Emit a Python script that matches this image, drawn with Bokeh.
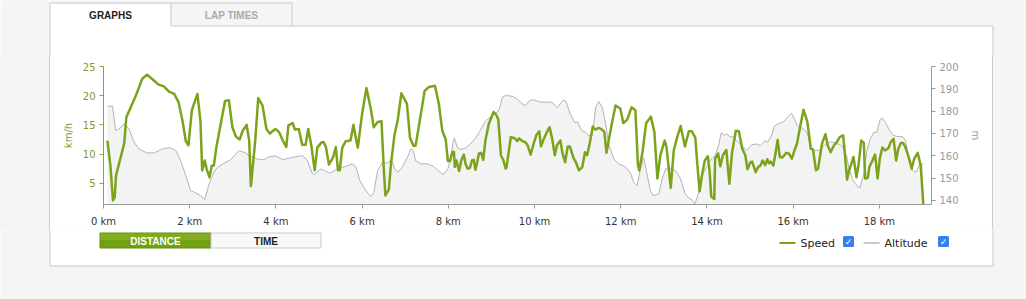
from bokeh.plotting import figure
from bokeh.models import LinearAxis, Range1d, FixedTicker, PrintfTickFormatter, Div
from bokeh.core.properties import value
from bokeh.layouts import column, row
from bokeh.embed import file_html
from bokeh.resources import INLINE

# ---------------- data ----------------
speed_km = [0.09, 0.16, 0.22, 0.26, 0.29, 0.48, 0.53, 0.75, 0.90, 1.01, 1.17, 1.28, 1.40, 1.52, 1.64, 1.74,
            1.83, 1.91, 1.97, 2.05, 2.18, 2.25, 2.29, 2.35, 2.39, 2.46, 2.51, 2.56, 2.62, 2.72, 2.82, 2.91,
            2.99, 3.07, 3.16, 3.23, 3.32, 3.38, 3.42, 3.52, 3.59, 3.69, 3.78, 3.86, 3.92, 3.99, 4.07, 4.16,
            4.24, 4.29, 4.39, 4.44, 4.53, 4.61, 4.69, 4.75, 4.82, 4.90, 4.96, 5.06, 5.11, 5.16, 5.23, 5.33,
            5.39, 5.44, 5.48, 5.54, 5.62, 5.73, 5.80, 5.85, 5.90, 6.00, 6.10, 6.20, 6.27, 6.36, 6.45, 6.50,
            6.54, 6.62, 6.67, 6.75, 6.83, 6.91, 6.96, 7.04, 7.11, 7.19, 7.24, 7.34, 7.45, 7.55, 7.69, 7.78,
            7.86, 7.94, 7.99, 8.04, 8.09, 8.13, 8.15, 8.19, 8.22, 8.25, 8.30, 8.36, 8.40, 8.45, 8.50, 8.55,
            8.59, 8.63, 8.67, 8.71, 8.76, 8.81, 8.86, 8.94, 9.05, 9.12, 9.16, 9.22, 9.28, 9.33, 9.35, 9.45,
            9.54, 9.60, 9.64, 9.70, 9.79, 9.84, 9.91, 9.98, 10.04, 10.11, 10.15, 10.20, 10.29, 10.35, 10.41,
            10.47, 10.52, 10.60, 10.65, 10.71, 10.77, 10.82, 10.91, 10.96, 11.03, 11.11, 11.17, 11.22, 11.28,
            11.35, 11.41, 11.49, 11.56, 11.62, 11.67, 11.72, 11.80, 11.88, 11.99, 12.06, 12.15, 12.25, 12.34,
            12.40, 12.43, 12.51, 12.59, 12.70, 12.78, 12.85, 12.92, 13.02, 13.06, 13.16, 13.23, 13.31, 13.39,
            13.49, 13.58, 13.65, 13.73, 13.77, 13.83, 13.89, 13.95, 14.02, 14.06, 14.10, 14.17, 14.19, 14.26,
            14.31, 14.37, 14.45, 14.52, 14.58, 14.67, 14.74, 14.82, 14.89, 14.94, 15.01, 15.05, 15.13, 15.19,
            15.24, 15.29, 15.35, 15.40, 15.44, 15.48, 15.54, 15.59, 15.64, 15.69, 15.75, 15.84, 15.90, 15.97,
            16.03, 16.09, 16.16, 16.24, 16.33, 16.41, 16.46, 16.53, 16.58, 16.67, 16.75, 16.80, 16.87, 16.95,
            17.00, 17.08, 17.16, 17.20, 17.25, 17.30, 17.35, 17.40, 17.47, 17.52, 17.58, 17.64, 17.67, 17.73,
            17.77, 17.84, 17.90, 17.96, 18.01, 18.07, 18.13, 18.21, 18.26, 18.33, 18.39, 18.44, 18.50, 18.55,
            18.61, 18.70, 18.75, 18.81, 18.89, 18.96, 19.02]
speed_kmh = [12.3, 8.0, 2.05, 2.6, 6.3, 11.8, 16.3, 20.0, 22.9, 23.6, 22.6, 21.9, 21.6, 20.7, 20.3, 18.9,
             15.8, 12.2, 11.5, 17.5, 20.3, 15.5, 7.2, 8.9, 7.5, 6.0, 8.0, 8.0, 11.2, 15.2, 19.1, 19.2,
             14.6, 13.0, 12.5, 14.0, 15.0, 12.3, 4.5, 12.3, 19.6, 18.3, 14.3, 13.5, 13.9, 14.3, 13.8, 12.3,
             11.2, 14.9, 15.3, 14.2, 14.3, 11.6, 11.6, 14.3, 11.5, 7.2, 11.1, 12.0, 12.0, 11.2, 8.2, 9.5,
             11.2, 7.2, 7.2, 11.1, 12.2, 12.3, 15.0, 12.9, 11.1, 16.9, 21.3, 17.8, 14.6, 15.5, 15.6, 7.8,
             2.9, 3.9, 8.3, 13.2, 16.0, 20.4, 19.7, 18.6, 12.8, 11.4, 11.4, 15.8, 20.8, 21.5, 21.7, 18.6,
             14.0, 12.5, 8.8, 8.8, 10.3, 10.4, 7.8, 8.9, 7.9, 7.1, 8.9, 9.9, 8.3, 7.5, 7.6, 8.9,
             9.0, 7.3, 8.6, 10.1, 10.2, 9.0, 12.3, 15.2, 17.2, 16.6, 15.9, 9.8, 8.9, 7.5, 7.7, 12.9,
             12.7, 12.2, 12.7, 12.3, 12.0, 11.5, 9.9, 11.8, 13.2, 13.9, 11.3, 12.3, 13.8, 14.6, 12.6,
             9.8, 11.5, 12.3, 10.1, 8.6, 11.3, 11.3, 9.2, 8.6, 7.2, 7.8, 10.3, 9.8, 11.8,
             14.7, 14.2, 14.5, 14.2, 13.8, 10.2, 12.3, 15.5, 18.3, 17.8, 15.3, 15.9, 18.0, 17.5,
             8.0, 7.2, 10.6, 15.3, 16.4, 13.8, 5.8, 9.8, 12.3, 11.3, 4.2, 10.6, 12.9, 14.8,
             11.3, 13.9, 13.9, 12.8, 8.9, 3.6, 6.6, 8.9, 9.6, 7.2, 2.7, 2.3, 9.2, 10.1,
             7.9, 9.8, 10.7, 4.9, 10.1, 14.0, 13.9, 10.9, 9.8, 7.4, 8.6, 8.7, 6.9, 7.8,
             8.0, 8.9, 8.1, 9.1, 8.4, 8.7, 8.0, 10.1, 12.4, 9.5, 9.4, 10.2, 10.1, 9.2,
             10.6, 11.8, 14.6, 17.6, 15.5, 10.9, 10.8, 7.2, 7.5, 11.8, 13.4, 11.5, 10.3, 11.5,
             11.9, 12.9, 13.2, 10.1, 5.6, 7.2, 8.3, 9.5, 6.0, 8.3, 12.3, 11.9, 5.8, 5.9,
             7.8, 8.9, 9.9, 5.8, 9.2, 11.1, 10.6, 11.0, 12.0, 12.6, 8.9, 10.9, 11.9, 11.9,
             11.1, 9.0, 7.5, 9.2, 10.2, 8.0, 1.4]

alt_km = [0.09, 0.21, 0.28, 0.36, 0.48, 0.59, 0.71, 0.82, 1.01, 1.17, 1.32, 1.44, 1.56, 1.68, 1.79, 1.91,
          2.02, 2.14, 2.25, 2.35, 2.45, 2.56, 2.64, 2.79, 2.95, 3.07, 3.15, 3.26, 3.46, 3.61, 3.73, 3.84,
          3.99, 4.15, 4.30, 4.46, 4.61, 4.72, 4.84, 4.89, 5.04, 5.26, 5.42, 5.62, 5.77, 5.85, 5.95, 6.06,
          6.20, 6.27, 6.36, 6.47, 6.57, 6.68, 6.76, 6.83, 6.93, 7.05, 7.13, 7.19, 7.24, 7.36, 7.51, 7.66,
          7.81, 7.88, 7.99, 8.07, 8.11, 8.14, 8.21, 8.28, 8.40, 8.51, 8.63, 8.74, 8.86, 8.97, 9.05, 9.14,
          9.20, 9.25, 9.33, 9.48, 9.60, 9.71, 9.79, 9.89, 9.98, 10.13, 10.41, 10.52, 10.67, 10.72, 10.83,
          10.93, 11.00, 11.09, 11.18, 11.26, 11.34, 11.42, 11.49, 11.57, 11.65, 11.72, 11.84, 11.95, 12.10,
          12.22, 12.30, 12.38, 12.45, 12.53, 12.61, 12.69, 12.76, 12.88, 12.96, 13.04, 13.16, 13.27, 13.39,
          13.49, 13.56, 13.66, 13.72, 13.80, 13.87, 13.98, 14.10, 14.19, 14.27, 14.33, 14.40, 14.46, 14.54,
          14.61, 14.69, 14.81, 14.92, 15.04, 15.16, 15.24, 15.34, 15.41, 15.51, 15.56, 15.65, 15.78, 15.87,
          15.96, 16.03, 16.10, 16.24, 16.33, 16.41, 16.50, 16.62, 16.74, 16.86, 17.00, 17.13, 17.24, 17.29,
          17.37, 17.48, 17.55, 17.64, 17.71, 17.79, 17.87, 17.94, 18.01, 18.06, 18.14, 18.24, 18.33, 18.44,
          18.54, 18.61, 18.69, 18.77, 18.86, 18.94, 19.01]
alt_m = [182.2, 182.2, 171.3, 172.1, 174.3, 172.1, 166.1, 163.1, 161.3, 161.3, 162.6, 163.5, 163.5, 162.3, 157.8, 151.1,
         144.4, 143.4, 142.2, 140.4, 147.4, 152.6, 154.8, 156.6, 158.2, 160.9, 162.3, 161.6, 159.3, 158.3, 158.3, 159.6,
         160.0, 158.3, 158.9, 159.6, 160.1, 158.3, 152.3, 151.6, 154.1, 152.2, 154.1, 155.3, 156.4, 155.2, 148.9, 145.2,
         141.7, 143.6, 153.4, 157.1, 156.7, 158.2, 154.1, 152.7, 154.9, 159.3, 163.1, 162.3, 157.8, 156.4, 156.4, 155.2,
         152.6, 151.6, 154.1, 160.5, 166.1, 168.0, 163.8, 162.8, 163.5, 165.3, 168.0, 171.3, 175.5, 177.3, 178.8, 179.5,
         181.8, 186.2, 187.0, 186.7, 185.5, 183.3, 182.5, 184.8, 185.1, 184.1, 184.0, 181.5, 185.0, 184.7, 178.8,
         175.0, 175.2, 171.3, 170.6, 169.1, 169.1, 181.8, 184.3, 181.8, 174.3, 165.3, 158.6, 156.4, 155.2,
         152.6, 148.1, 146.7, 153.4, 159.3, 151.9, 144.1, 142.2, 142.8, 149.6, 154.1, 154.4, 153.4, 149.6,
         143.2, 141.4, 140.2, 138.4, 142.9, 150.4, 154.8, 158.6, 160.0, 164.6, 170.3, 169.1, 169.8, 168.5,
         168.5, 166.8, 164.6, 162.4, 165.0, 165.3, 164.6, 166.8, 166.1, 169.5, 173.2, 174.3, 175.3, 177.3,
         179.1, 176.5, 173.5, 172.1, 170.1, 163.8, 162.3, 162.6, 165.0, 166.4, 165.6, 164.6, 160.1, 154.9,
         149.6, 146.6, 145.6, 151.9, 162.3, 167.6, 170.5, 170.5, 175.8, 177.0, 175.0, 171.3, 169.1, 168.6,
         168.6, 166.8, 157.8, 153.4, 152.7, 156.4, 156.5]

x_ticks = [0, 2, 4, 6, 8, 10, 12, 14, 16, 18]
speed_ticks = [5, 10, 15, 20, 25]
alt_ticks = [140, 150, 160, 170, 180, 190, 200]
tab_labels = ["GRAPHS", "LAP TIMES"]
button_labels = ["DISTANCE", "TIME"]
series_names = ["Speed", "Altitude"]

# ---------------- styling / layout ----------------
GREEN = "#7ba31b"
GREEN_TXT = "#7f9b1f"
GREY_TXT = "#9a9a9a"
PAGE = "#f5f5f5"
EDGE = "#cccccc"
W = 1026
TOP_H, MID_H, BOT_H = 56, 174, 69          # stacked strips of the page
LEFT_W, CHART_W, RIGHT_W = 50, 942, 34     # columns of the middle strip


def deco(width, height, y0):
    """Decoration strip; its ranges are page pixels so boxes/text line up with the chart."""
    f = figure(width=width, height=height, output_backend="svg", toolbar_location=None,
               x_range=Range1d(0, width), y_range=Range1d(y0 + height, y0),
               x_axis_type=None, y_axis_type=None, min_border=0)
    f.background_fill_color = PAGE
    f.border_fill_color = PAGE
    f.outline_line_color = None
    f.xgrid.visible = False
    f.ygrid.visible = False
    return f


def txt(f, x, y, s, size, color, font="DejaVu Sans", style="normal", align="left"):
    f.text(x=[x], y=[y], text=[s], text_font=value(font), text_font_size=value(f"{size}px"),
           text_color=color, text_font_style=style, text_align=align, text_baseline="middle")


# ---- top strip: tabs + panel top edge ----
top = deco(W, TOP_H, 0)
top.quad(left=50, right=992, top=26, bottom=TOP_H + 10, fill_color="white", line_color=None)
top.quad(left=50, right=170, top=3, bottom=27, fill_color="white", line_color=None)
top.quad(left=170.5, right=291.5, top=2.5, bottom=25.5, fill_color=PAGE, line_color=EDGE)
top.segment(x0=[49.5, 49.5, 291.5, 992.5], y0=[2.5, 2.5, 25.5, 25.5],
            x1=[49.5, 170.5, 992.5, 992.5], y1=[TOP_H + 10, 2.5, 25.5, TOP_H + 10], line_color=EDGE, line_width=1)
txt(top, 110, 15, tab_labels[0], 10, "#222222", "Liberation Sans", "bold", "center")
txt(top, 231, 15, tab_labels[1], 10, "#aaaaaa", "Liberation Sans", "bold", "center")

# ---- middle strip: panel sides (plain boxes) + chart ----
left = Div(text="", width=LEFT_W, height=MID_H, margin=0,
           styles={"background-color": PAGE, "border-right": f"1px solid {EDGE}", "box-sizing": "border-box"})
right = Div(text="", width=RIGHT_W, height=MID_H, margin=0,
            styles={"background-color": PAGE, "border-left": f"1px solid {EDGE}", "box-sizing": "border-box"})

FL, FR, FT, FB = 103, 931, 66, 204   # plot frame in page pixels
p = figure(width=CHART_W, height=MID_H, output_backend="svg", toolbar_location=None,
           x_range=Range1d(0, 19.21), y_range=Range1d(1.35, 25),
           min_border_left=FL - LEFT_W, min_border_right=LEFT_W + CHART_W - FR,
           min_border_top=FT - TOP_H, min_border_bottom=TOP_H + MID_H - FB)
p.extra_y_ranges = {"alt": Range1d(138.2, 200)}
p.background_fill_color = "white"
p.border_fill_color = "white"
p.outline_line_color = None
p.xgrid.visible = False
p.ygrid.visible = False

p.varea(x=alt_km, y1=138.2, y2=alt_m, y_range_name="alt", fill_color="#f3f3f3")
p.line(alt_km, alt_m, y_range_name="alt", line_color="#b3b3b3", line_width=1)
p.line(speed_km, speed_kmh, line_color=GREEN, line_width=2.5, line_join="round")

xa = p.xaxis[0]
xa.ticker = FixedTicker(ticks=x_ticks)
xa.formatter = PrintfTickFormatter(format="%d km")
xa.axis_line_color = "#999999"
xa.major_tick_line_color = "#999999"
xa.major_tick_in = 0
xa.major_tick_out = 4
xa.minor_tick_line_color = None
xa.major_label_text_font = "DejaVu Sans"
xa.major_label_text_font_size = "10px"
xa.major_label_text_color = "#333333"
xa.major_label_standoff = 7

ya = p.yaxis[0]
ya.ticker = FixedTicker(ticks=speed_ticks)
ya.axis_label = "km/h"
ya.axis_label_text_color = GREEN_TXT
ya.axis_label_text_font = "DejaVu Sans"
ya.axis_label_text_font_size = "10px"
ya.axis_label_text_font_style = "normal"
ya.axis_label_standoff = 6
ya.axis_line_color = "#8aa82e"
ya.major_tick_line_color = "#8aa82e"
ya.major_tick_in = 0
ya.major_tick_out = 4
ya.minor_tick_line_color = None
ya.major_label_text_font = "DejaVu Sans"
ya.major_label_text_font_size = "10px"
ya.major_label_text_color = GREEN_TXT
ya.major_label_standoff = 4

ra = LinearAxis(y_range_name="alt", ticker=FixedTicker(ticks=alt_ticks), axis_label="m")
ra.axis_label_text_color = GREY_TXT
ra.axis_label_text_font = "DejaVu Sans"
ra.axis_label_text_font_size = "10px"
ra.axis_label_text_font_style = "normal"
ra.axis_label_standoff = 8
ra.axis_line_color = "#999999"
ra.major_tick_line_color = "#999999"
ra.major_tick_in = 0
ra.major_tick_out = 4
ra.minor_tick_line_color = None
ra.major_label_text_font = "DejaVu Sans"
ra.major_label_text_font_size = "10px"
ra.major_label_text_color = GREY_TXT
ra.major_label_standoff = 4
p.add_layout(ra, "right")

# ---- bottom strip: buttons, legend, panel bottom edge ----
Y0 = TOP_H + MID_H
bot = deco(W, BOT_H, Y0)
bot.quad(left=50, right=992, top=Y0 - 10, bottom=265, fill_color="white", line_color=None)
bot.segment(x0=[49.5, 49.5, 992.5], y0=[Y0 - 10, 265.5, Y0 - 10], x1=[49.5, 992.5, 992.5],
            y1=[265.5, 265.5, 265.5], line_color=EDGE)
# distance / time buttons
bot.quad(left=99.5, right=210.5, top=232.5, bottom=247.5, fill_color="#70a014", line_color="#62900f")
bot.quad(left=100, right=210, top=233, bottom=239.5, fill_color="#82ac1f", line_color=None)
bot.quad(left=210.5, right=320.5, top=232.5, bottom=247.5, fill_color="#f8f8f8", line_color=EDGE)
txt(bot, 155, 240.5, button_labels[0], 10, "white", "Liberation Sans", "bold", "center")
txt(bot, 265.5, 240.5, button_labels[1], 10, "#222222", "Liberation Sans", "bold", "center")
# legend
bot.segment(x0=[779, 863], y0=[242.5, 242.5], x1=[795, 879], y1=[242.5, 242.5],
            line_color=[GREEN, "#cccccc"], line_width=2)
txt(bot, 800, 242.5, series_names[0], 11, "#222222")
txt(bot, 884, 242.5, series_names[1], 11, "#222222")
# checkboxes: rounded blue squares (thick round-joined outline)
bot.quad(left=[844, 939], right=[852, 947], top=[237, 237], bottom=[245, 245],
         fill_color="#3b86f2", line_color="#3680ee", line_width=3, line_join="round")
bot.text(x=[848, 943], y=[241.5, 241.5], text=["\u2713", "\u2713"], text_font=value("DejaVu Sans"),
         text_font_size=value("9px"), text_color="white", text_font_style="bold",
         text_align="center", text_baseline="middle")

layout = column(top, row(left, p, right), bot)
open("out.html", "w").write(file_html(layout, INLINE))
